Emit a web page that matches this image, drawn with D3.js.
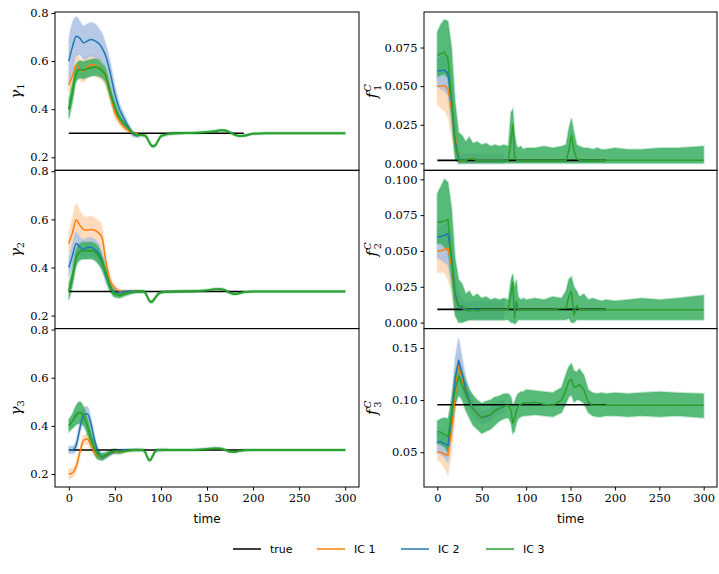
<!DOCTYPE html>
<html>
<head>
<meta charset="utf-8">
<script src="https://cdn.jsdelivr.net/npm/d3@7.9.0/dist/d3.min.js"></script>
<style>
  body { margin: 0; background: #fff; }
  svg { display: block; }
</style>
</head>
<body>
<svg id="chart" width="719" height="574"></svg>
<script>
// time grids
const T = [0,4,8,12,16,20,24,28,32,36,40,45,50,55,60,65,70,75,80,83,85,87,89,91,94,97,100,
  110,120,130,140,145,148,151,154,157,160,165,170,175,180,185,190,200,215,230,250,270,300];
const TE = [0,4,8,12,16,20,24,28,32,36,40,45,50,55,60,65,70,75];
const trueT = [0, 190];
const xTicks = [0, 50, 100, 150, 200, 250, 300];

// ---- gamma_1 ----
const g1_true = 0.3;
const g1_ic1 = [0.50,0.54,0.585,0.565,0.558,0.575,0.585,0.583,0.575,0.56,0.533,0.46,0.385,0.35,0.325,0.31,0.30,0.298];
const g1_ic1_sd = [0.03,0.05,0.05,0.045,0.045,0.045,0.045,0.045,0.045,0.04,0.035,0.03,0.02,0.015,0.01,0.008,0.005,0.004];
const g1_ic2 = [0.60,0.66,0.703,0.695,0.676,0.683,0.69,0.685,0.675,0.655,0.622,0.55,0.463,0.40,0.36,0.325,0.295,0.288];
const g1_ic2_sd = [0.09,0.1,0.08,0.07,0.07,0.07,0.07,0.07,0.065,0.06,0.05,0.045,0.035,0.025,0.02,0.015,0.01,0.006];
const g1_ic3 = [0.40,0.47,0.55,0.565,0.562,0.568,0.572,0.575,0.572,0.56,0.54,0.47,0.41,0.365,0.34,0.32,0.30,0.292,0.293,
  0.29,0.28,0.265,0.252,0.246,0.25,0.27,0.288,0.298,0.30,0.301,0.302,0.303,0.304,0.305,0.306,0.307,0.309,
  0.312,0.311,0.303,0.294,0.289,0.29,0.298,0.30,0.30,0.30,0.30,0.30];
const g1_ic3_sd = [0.04,0.04,0.035,0.035,0.035,0.035,0.035,0.035,0.035,0.03,0.03,0.025,0.02,0.015,0.01,0.008,0.006,0.005,0.005,
  0.005,0.005,0.005,0.005,0.005,0.005,0.005,0.005,0.004,0.004,0.004,0.004,0.004,0.004,0.004,0.004,0.004,0.004,
  0.004,0.004,0.004,0.004,0.004,0.004,0.003,0.003,0.003,0.003,0.003,0.003];

// ---- gamma_2 ----
const g2_true = 0.3;
const g2_ic1 = [0.50,0.545,0.598,0.575,0.558,0.555,0.558,0.555,0.545,0.525,0.43,0.345,0.315,0.302,0.298,0.299,0.30,0.30];
const g2_ic1_sd = [0.04,0.06,0.065,0.06,0.055,0.055,0.055,0.05,0.05,0.045,0.035,0.02,0.012,0.008,0.006,0.005,0.004,0.004];
const g2_ic2 = [0.40,0.45,0.50,0.485,0.475,0.483,0.485,0.475,0.46,0.43,0.37,0.32,0.298,0.295,0.298,0.30,0.30,0.30];
const g2_ic2_sd = [0.04,0.045,0.045,0.04,0.04,0.04,0.04,0.04,0.04,0.035,0.03,0.02,0.012,0.008,0.006,0.005,0.004,0.004];
const g2_ic3 = [0.30,0.36,0.44,0.465,0.47,0.47,0.47,0.465,0.45,0.42,0.38,0.32,0.29,0.285,0.29,0.295,0.298,0.30,0.30,
  0.295,0.28,0.265,0.257,0.26,0.275,0.29,0.297,0.299,0.30,0.301,0.302,0.303,0.304,0.305,0.307,0.309,0.31,
  0.31,0.305,0.295,0.29,0.293,0.298,0.30,0.30,0.30,0.30,0.30,0.30];
const g2_ic3_sd = [0.035,0.035,0.035,0.035,0.035,0.035,0.035,0.035,0.035,0.03,0.025,0.018,0.014,0.012,0.01,0.008,0.006,0.005,0.005,
  0.005,0.005,0.005,0.005,0.005,0.005,0.005,0.005,0.004,0.004,0.004,0.004,0.004,0.004,0.004,0.004,0.004,0.004,
  0.004,0.004,0.004,0.004,0.004,0.004,0.003,0.003,0.003,0.003,0.003,0.003];

// ---- gamma_3 ----
const g3_true = 0.3;
const g3_ic1 = [0.20,0.205,0.23,0.29,0.34,0.345,0.32,0.29,0.275,0.27,0.275,0.285,0.29,0.29,0.293,0.297,0.30,0.30];
const g3_ic1_sd = [0.02,0.02,0.02,0.02,0.02,0.02,0.02,0.015,0.012,0.01,0.008,0.008,0.006,0.005,0.004,0.004,0.004,0.004];
const g3_ic2 = [0.30,0.30,0.32,0.39,0.445,0.45,0.41,0.34,0.29,0.27,0.275,0.285,0.293,0.297,0.30,0.30,0.30,0.30];
const g3_ic2_sd = [0.015,0.015,0.02,0.025,0.03,0.03,0.025,0.02,0.015,0.012,0.01,0.008,0.006,0.005,0.004,0.004,0.004,0.004];
const g3_ic3 = [0.40,0.42,0.445,0.455,0.44,0.40,0.35,0.305,0.28,0.272,0.278,0.29,0.295,0.292,0.295,0.298,0.30,0.30,0.30,
  0.29,0.272,0.258,0.26,0.275,0.295,0.30,0.30,0.30,0.30,0.30,0.301,0.302,0.303,0.304,0.305,0.306,0.306,
  0.305,0.30,0.293,0.292,0.296,0.299,0.30,0.30,0.30,0.30,0.30,0.30];
const g3_ic3_sd = [0.025,0.03,0.04,0.045,0.04,0.035,0.03,0.025,0.02,0.015,0.012,0.01,0.01,0.008,0.006,0.005,0.005,0.005,0.005,
  0.005,0.005,0.005,0.005,0.005,0.005,0.005,0.005,0.004,0.004,0.004,0.004,0.004,0.004,0.004,0.004,0.004,0.004,
  0.004,0.004,0.004,0.004,0.004,0.004,0.003,0.003,0.003,0.003,0.003,0.003];

// ---- f_1^C ----
const f1_true = 0.0019;
const f1_ic1 = [0.050,0.050,0.0505,0.048,0.035,0.018,0.003,0.0015,0.002,0.0035,0.003,0.002,0.002,0.002,0.002,0.002,0.002,0.002];
const f1_ic1_lo = [0.038,0.036,0.034,0.03,0.018,0.006,0,0,0,0,0,0,0,0,0,0,0,0];
const f1_ic1_hi = [0.055,0.056,0.057,0.056,0.048,0.03,0.008,0.005,0.005,0.006,0.006,0.005,0.005,0.005,0.005,0.005,0.005,0.005];
const f1_ic2 = [0.060,0.060,0.0605,0.058,0.04,0.015,0.003,0.002,0.002,0.003,0.003,0.002,0.002,0.002,0.002,0.002,0.002,0.002];
const f1_ic2_lo = [0.05,0.048,0.047,0.044,0.026,0.006,0,0,0,0,0,0,0,0,0,0,0,0];
const f1_ic2_hi = [0.068,0.069,0.07,0.069,0.055,0.028,0.008,0.006,0.006,0.006,0.006,0.006,0.006,0.006,0.006,0.006,0.006,0.006];
const f1_ic3 = [0.070,0.071,0.072,0.068,0.042,0.012,0.002,0.002,0.002,0.003,0.003,0.002,0.002,0.002,0.002,0.002,0.002,0.002,0.002,
  0.015,0.025,0.005,0.002,0.002,0.002,0.002,0.002,0.002,0.002,0.002,0.002,0.002,0.008,0.018,0.008,0.003,0.002,
  0.002,0.002,0.002,0.002,0.002,0.002,0.002,0.002,0.002,0.002,0.002,0.002];
const f1_ic3_lo = [0.056,0.057,0.058,0.055,0.03,0.003,0,0,0,0,0,0,0,0,0,0,0,0,0,
  0,0,0,0,0,0,0,0,0,0,0,0,0,0,0,0,0,0,
  0,0,0,0,0,0,0,0,0,0,0,0];
const f1_ic3_hi = [0.085,0.09,0.093,0.092,0.075,0.04,0.02,0.018,0.014,0.017,0.013,0.014,0.012,0.013,0.011,0.012,0.011,0.012,0.011,
  0.033,0.035,0.02,0.012,0.01,0.011,0.009,0.010,0.010,0.011,0.010,0.011,0.012,0.022,0.029,0.02,0.012,0.011,
  0.010,0.010,0.009,0.010,0.009,0.009,0.010,0.009,0.009,0.010,0.010,0.011];

// ---- f_2^C ----
const f2_true = 0.0092;
const f2_ic1 = [0.050,0.050,0.051,0.052,0.04,0.018,0.012,0.010,0.009,0.009,0.009,0.009,0.009,0.009,0.009,0.009,0.009,0.009];
const f2_ic1_lo = [0.035,0.035,0.035,0.03,0.022,0.006,0.002,0.002,0.002,0.002,0.002,0.002,0.002,0.002,0.002,0.002,0.002,0.002];
const f2_ic1_hi = [0.053,0.054,0.056,0.057,0.05,0.028,0.018,0.015,0.014,0.014,0.014,0.014,0.014,0.014,0.014,0.014,0.014,0.014];
const f2_ic2 = [0.060,0.060,0.061,0.062,0.045,0.02,0.012,0.010,0.009,0.009,0.009,0.009,0.009,0.009,0.009,0.009,0.009,0.009];
const f2_ic2_lo = [0.045,0.044,0.042,0.04,0.028,0.008,0.003,0.002,0.002,0.002,0.002,0.002,0.002,0.002,0.002,0.002,0.002,0.002];
const f2_ic2_hi = [0.066,0.067,0.069,0.07,0.058,0.032,0.02,0.016,0.015,0.015,0.015,0.015,0.015,0.015,0.015,0.015,0.015,0.015];
const f2_ic3 = [0.070,0.070,0.071,0.072,0.045,0.018,0.011,0.012,0.009,0.008,0.009,0.008,0.009,0.009,0.009,0.009,0.009,0.009,0.009,
  0.02,0.028,0.003,0.015,0.009,0.009,0.009,0.009,0.009,0.009,0.009,0.010,0.010,0.018,0.022,0.005,0.012,0.009,
  0.009,0.009,0.009,0.009,0.009,0.009,0.009,0.009,0.009,0.009,0.009,0.009];
const f2_ic3_lo = [0.055,0.055,0.053,0.05,0.03,0.005,0,0,0.001,0.002,0.002,0.002,0.002,0.002,0.002,0.002,0.002,0.002,0.002,
  0,0,-0.001,0,0.002,0.002,0.002,0.002,0.002,0.002,0.002,0.002,0.002,0.003,0,0,0.002,0.002,
  0.002,0.002,0.002,0.002,0.002,0.002,0.002,0.002,0.002,0.002,0.002,0.002];
const f2_ic3_hi = [0.09,0.095,0.10,0.098,0.08,0.045,0.03,0.027,0.02,0.022,0.018,0.02,0.017,0.018,0.016,0.017,0.016,0.017,0.016,
  0.03,0.034,0.025,0.03,0.018,0.016,0.017,0.016,0.017,0.016,0.018,0.017,0.022,0.03,0.032,0.025,0.022,0.018,
  0.02,0.016,0.017,0.016,0.015,0.016,0.015,0.016,0.017,0.016,0.017,0.019];

// ---- f_3^C ----
const f3_true = 0.0955;
const f3_ic1 = [0.050,0.050,0.048,0.047,0.071,0.103,0.135,0.12,0.108,0.10,0.092,0.087,0.083,0.084,0.086,0.09,0.092,0.094];
const f3_ic1_lo = [0.043,0.04,0.035,0.028,0.05,0.085,0.12,0.108,0.1,0.093,0.086,0.082,0.078,0.079,0.081,0.085,0.087,0.089];
const f3_ic1_hi = [0.055,0.055,0.054,0.052,0.085,0.12,0.15,0.135,0.118,0.108,0.1,0.093,0.089,0.09,0.092,0.096,0.098,0.1];
const f3_ic2 = [0.060,0.060,0.058,0.056,0.085,0.12,0.138,0.125,0.11,0.10,0.092,0.087,0.083,0.084,0.086,0.09,0.092,0.094];
const f3_ic2_lo = [0.05,0.048,0.045,0.04,0.065,0.1,0.12,0.112,0.1,0.092,0.085,0.08,0.077,0.078,0.08,0.084,0.086,0.088];
const f3_ic2_hi = [0.07,0.07,0.068,0.066,0.1,0.14,0.16,0.14,0.122,0.11,0.1,0.094,0.09,0.091,0.093,0.097,0.099,0.1];
const f3_ic3 = [0.070,0.069,0.067,0.065,0.085,0.11,0.123,0.115,0.105,0.098,0.092,0.087,0.083,0.085,0.086,0.09,0.092,0.094,0.095,
  0.09,0.078,0.082,0.09,0.094,0.096,0.097,0.097,0.098,0.096,0.095,0.10,0.11,0.118,0.12,0.112,0.113,0.115,
  0.11,0.098,0.095,0.095,0.095,0.095,0.095,0.095,0.095,0.095,0.095,0.095];
const f3_ic3_lo = [0.058,0.057,0.055,0.05,0.068,0.095,0.105,0.1,0.09,0.083,0.076,0.072,0.068,0.07,0.072,0.076,0.08,0.082,0.083,
  0.078,0.068,0.07,0.078,0.082,0.084,0.085,0.085,0.086,0.085,0.084,0.088,0.097,0.103,0.105,0.098,0.1,0.1,
  0.097,0.088,0.085,0.084,0.084,0.085,0.085,0.084,0.085,0.084,0.085,0.083];
const f3_ic3_hi = [0.08,0.082,0.083,0.082,0.1,0.125,0.138,0.128,0.118,0.11,0.105,0.1,0.097,0.099,0.1,0.103,0.104,0.106,0.106,
  0.103,0.095,0.098,0.103,0.106,0.108,0.108,0.11,0.109,0.108,0.107,0.112,0.125,0.132,0.135,0.128,0.127,0.13,
  0.124,0.11,0.107,0.106,0.107,0.106,0.107,0.106,0.107,0.108,0.107,0.106];

const legendLabels = ['true', 'IC 1', 'IC 2', 'IC 3'];
const colors = { true: '#000', ic1: '#ff7f0e', ic2: '#1f77b4', ic3: '#2ca02c' };
const bandFill = { ic1: '#fcd3ae', ic2: '#a9c0e3', ic3: '#3aae62' };
const bandOpacity = { ic1: 0.8, ic2: 0.85, ic3: 0.85 };
const serif = '"DejaVu Serif", serif';
const sans = '"DejaVu Sans", sans-serif';

// symmetric band from a spread array
const sdBand = (m, sd) => ({ lo: m.map((v, i) => v - sd[i]), hi: m.map((v, i) => v + sd[i]) });

const panels = [
  { col: 0, row: 0, domain: [0.146, 0.804], ticks: [0.2, 0.4, 0.6, 0.8], fmt: '.1f', sub: '1', trueV: g1_true,
    ic1: { mean: g1_ic1, ...sdBand(g1_ic1, g1_ic1_sd) }, ic2: { mean: g1_ic2, ...sdBand(g1_ic2, g1_ic2_sd) }, ic3: { mean: g1_ic3, ...sdBand(g1_ic3, g1_ic3_sd) } },
  { col: 0, row: 1, domain: [0.146, 0.804], ticks: [0.2, 0.4, 0.6, 0.8], fmt: '.1f', sub: '2', trueV: g2_true,
    ic1: { mean: g2_ic1, ...sdBand(g2_ic1, g2_ic1_sd) }, ic2: { mean: g2_ic2, ...sdBand(g2_ic2, g2_ic2_sd) }, ic3: { mean: g2_ic3, ...sdBand(g2_ic3, g2_ic3_sd) } },
  { col: 0, row: 2, domain: [0.146, 0.804], ticks: [0.2, 0.4, 0.6, 0.8], fmt: '.1f', sub: '3', trueV: g3_true,
    ic1: { mean: g3_ic1, ...sdBand(g3_ic1, g3_ic1_sd) }, ic2: { mean: g3_ic2, ...sdBand(g3_ic2, g3_ic2_sd) }, ic3: { mean: g3_ic3, ...sdBand(g3_ic3, g3_ic3_sd) } },
  { col: 1, row: 0, domain: [-0.0045, 0.098], ticks: [0, 0.025, 0.05, 0.075], fmt: '.3f', sub: '1', trueV: f1_true,
    ic1: { mean: f1_ic1, lo: f1_ic1_lo, hi: f1_ic1_hi }, ic2: { mean: f1_ic2, lo: f1_ic2_lo, hi: f1_ic2_hi }, ic3: { mean: f1_ic3, lo: f1_ic3_lo, hi: f1_ic3_hi } },
  { col: 1, row: 1, domain: [-0.0042, 0.1063], ticks: [0, 0.025, 0.05, 0.075, 0.1], fmt: '.3f', sub: '2', trueV: f2_true,
    ic1: { mean: f2_ic1, lo: f2_ic1_lo, hi: f2_ic1_hi }, ic2: { mean: f2_ic2, lo: f2_ic2_lo, hi: f2_ic2_hi }, ic3: { mean: f2_ic3, lo: f2_ic3_lo, hi: f2_ic3_hi } },
  { col: 1, row: 2, domain: [0.0166, 0.1686], ticks: [0.05, 0.1, 0.15], fmt: '.2f', sub: '3', trueV: f3_true,
    ic1: { mean: f3_ic1, lo: f3_ic1_lo, hi: f3_ic1_hi }, ic2: { mean: f3_ic2, lo: f3_ic2_lo, hi: f3_ic2_hi }, ic3: { mean: f3_ic3, lo: f3_ic3_lo, hi: f3_ic3_hi } },
];

// layout
const colX = [[55, 359], [424, 717]];
const rowY = [12, 170.3, 328.6, 487];

const svg = d3.select('#chart');
svg.append('rect').attr('width', 719).attr('height', 574).attr('fill', '#fff');

function styleAxis(a) {
  a.attr('font-family', null).attr('font-size', null);
  a.select('.domain').remove();
  a.selectAll('.tick line').attr('stroke', '#000');
  a.selectAll('.tick text')
    .attr('fill', '#000')
    .attr('font-family', serif)
    .attr('font-size', 11.5);
}

panels.forEach((p, pi) => {
  const [x0, x1] = colX[p.col];
  const y0 = rowY[p.row], y1 = rowY[p.row + 1];
  const x = d3.scaleLinear().domain([-15, 315]).range([x0, x1]);
  const y = d3.scaleLinear().domain(p.domain).range([y1, y0]);
  const smooth = p.col === 0 ? d3.curveMonotoneX : d3.curveLinear;

  const clipId = 'clip' + pi;
  svg.append('clipPath').attr('id', clipId)
    .append('rect').attr('x', x0).attr('y', y0).attr('width', x1 - x0).attr('height', y1 - y0);
  const g = svg.append('g').attr('clip-path', `url(#${clipId})`);

  // bands
  ['ic1', 'ic2', 'ic3'].forEach((k) => {
    const s = p[k];
    const tt = k === 'ic3' ? T : TE;
    const area = d3.area().x((d, i) => x(tt[i])).y0((d, i) => y(s.lo[i])).y1((d, i) => y(s.hi[i])).curve(smooth);
    g.append('path').datum(s.mean).attr('d', area)
      .attr('fill', bandFill[k]).attr('fill-opacity', bandOpacity[k])
      .attr('stroke', bandFill[k]).attr('stroke-opacity', 0.3).attr('stroke-width', 2);
  });

  // true value
  g.append('line')
    .attr('x1', x(trueT[0])).attr('x2', x(trueT[1]))
    .attr('y1', y(p.trueV)).attr('y2', y(p.trueV))
    .attr('stroke', colors.true).attr('stroke-width', 1.6);

  // mean lines
  ['ic1', 'ic2', 'ic3'].forEach((k) => {
    const tt = k === 'ic3' ? T : TE;
    const line = d3.line().x((d, i) => x(tt[i])).y((d) => y(d)).curve(smooth);
    g.append('path').datum(p[k].mean).attr('d', line)
      .attr('fill', 'none').attr('stroke', colors[k])
      .attr('stroke-width', k === 'ic3' && p.col === 0 ? 2 : 1.5)
      .attr('stroke-linejoin', 'round');
  });

  // y axis
  const ya = svg.append('g').attr('transform', `translate(${x0},0)`)
    .call(d3.axisLeft(y).tickValues(p.ticks).tickFormat(d3.format(p.fmt)).tickSize(3.5).tickPadding(3));
  styleAxis(ya);

  // x axis on bottom row only
  if (p.row === 2) {
    const xa = svg.append('g').attr('transform', `translate(0,${y1})`)
      .call(d3.axisBottom(x).tickValues(xTicks).tickSize(3.5).tickPadding(3));
    styleAxis(xa);
    svg.append('text').attr('x', (x0 + x1) / 2).attr('y', 523)
      .attr('text-anchor', 'middle')
      .attr('font-family', sans).attr('font-size', 12)
      .text('time');
  }

  // frame
  svg.append('rect').attr('x', x0).attr('y', y0).attr('width', x1 - x0).attr('height', y1 - y0)
    .attr('fill', 'none').attr('stroke', '#000').attr('stroke-width', 1);

  // y label
  const cy = (y0 + y1) / 2;
  const lx = p.col === 0 ? 21 : 377;
  const lab = svg.append('text')
    .attr('transform', `translate(${lx},${cy}) rotate(-90)`)
    .attr('text-anchor', 'middle')
    .attr('font-family', serif).attr('font-size', 15);
  if (p.col === 0) {
    lab.append('tspan').attr('font-style', 'italic').text('γ');
    lab.append('tspan').attr('dy', 3).attr('font-size', 10).text(p.sub);
  } else {
    lab.append('tspan').attr('font-style', 'italic').text('f');
    lab.append('tspan').attr('dy', -6).attr('dx', 1).attr('font-size', 10).attr('font-style', 'italic').text('C');
    lab.append('tspan').attr('dy', 10).attr('dx', -7).attr('font-size', 10).text(p.sub);
  }
});

// legend
const legendKeys = ['true', 'ic1', 'ic2', 'ic3'];
const legendX = [233, 317, 401, 486];
const legend = svg.append('g');
legendKeys.forEach((k, i) => {
  legend.append('line')
    .attr('x1', legendX[i]).attr('x2', legendX[i] + 28)
    .attr('y1', 549).attr('y2', 549)
    .attr('stroke', colors[k]).attr('stroke-width', 1.5);
  legend.append('text')
    .attr('x', legendX[i] + 37).attr('y', 553)
    .attr('font-family', sans).attr('font-size', 11)
    .text(legendLabels[i]);
});
</script>
</body>
</html>
